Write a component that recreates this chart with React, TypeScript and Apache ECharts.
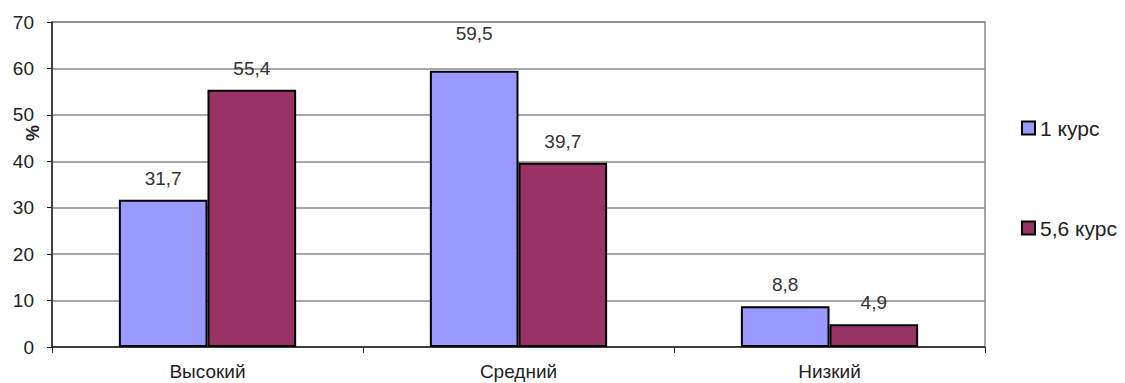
import React, { useEffect, useRef } from "react";
import * as echarts from "echarts";

const categories = ["Высокий", "Средний", "Низкий"];
const course1 = [31.7, 59.5, 8.8];
const course56 = [55.4, 39.7, 4.9];
const seriesNames = ["1 курс", "5,6 курс"];
const labelDistances1 = [12, 28, 12];
const labelDistances2 = [12, 12, 12];

const FONT = "Liberation Sans, Arial, sans-serif";

export default function App() {
  const ref = useRef<HTMLDivElement>(null);
  useEffect(() => {
    document.body.style.margin = "0";
    const chart = echarts.init(ref.current!, null, { renderer: "svg" });
    const fmt = (p: any) => String(p.value).replace(".", ",");
    const mk = (vals: number[], dists: number[]) =>
      vals.map((v, i) => ({ value: v, label: { distance: dists[i] } }));
    const legendBase = {
      orient: "vertical",
      left: 1016,
      itemWidth: 13,
      itemHeight: 13,
      itemGap: 6,
      icon: "rect",
      textStyle: { fontSize: 21, lineHeight: 22, color: "#222", fontFamily: FONT },
    };
    chart.setOption({
      animation: false,
      textStyle: { fontFamily: FONT },
      grid: {
        left: 52,
        right: 140,
        top: 22,
        bottom: 36,
        show: true,
        borderColor: "#8a8a8a",
        borderWidth: 1.5,
      },
      legend: [
        { ...legendBase, top: 112, data: [seriesNames[0]] },
        { ...legendBase, top: 212, data: [seriesNames[1]] },
      ],
      xAxis: {
        type: "category",
        data: categories,
        axisLine: { lineStyle: { color: "#222", width: 1.5 } },
        axisTick: { show: true, length: 6, lineStyle: { color: "#222" } },
        axisLabel: { fontSize: 19, color: "#222", margin: 15, fontFamily: FONT },
      },
      yAxis: {
        type: "value",
        min: 0,
        max: 70,
        interval: 10,
        axisLine: { show: true, lineStyle: { color: "#222", width: 1.5 } },
        axisTick: { show: true, length: 5, lineStyle: { color: "#222" } },
        axisLabel: { fontSize: 19, color: "#222", margin: 18, fontFamily: FONT },
        splitLine: { lineStyle: { color: "#8a8a8a", width: 1.5 } },
      },
      graphic: [
        {
          type: "text",
          x: 33,
          y: 133,
          rotation: Math.PI / 2,
          style: {
            text: "%",
            font: "bold 18px " + FONT,
            fill: "#222",
            align: "center",
            verticalAlign: "middle",
          },
        },
      ],
      series: [
        {
          name: seriesNames[0],
          type: "bar",
          data: mk(course1, labelDistances1),
          barGap: "0%",
          barCategoryGap: "43%",
          itemStyle: { color: "#9999ff", borderColor: "#000", borderWidth: 2 },
          label: { show: true, position: "top", formatter: fmt, fontSize: 19, color: "#333", fontFamily: FONT },
        },
        {
          name: seriesNames[1],
          type: "bar",
          data: mk(course56, labelDistances2),
          barGap: "0%",
          barCategoryGap: "43%",
          itemStyle: { color: "#993366", borderColor: "#000", borderWidth: 2 },
          label: { show: true, position: "top", formatter: fmt, fontSize: 19, color: "#333", fontFamily: FONT },
        },
      ],
    });
    return () => chart.dispose();
  }, []);
  return <div ref={ref} style={{ width: 1125, height: 383 }} />;
}
